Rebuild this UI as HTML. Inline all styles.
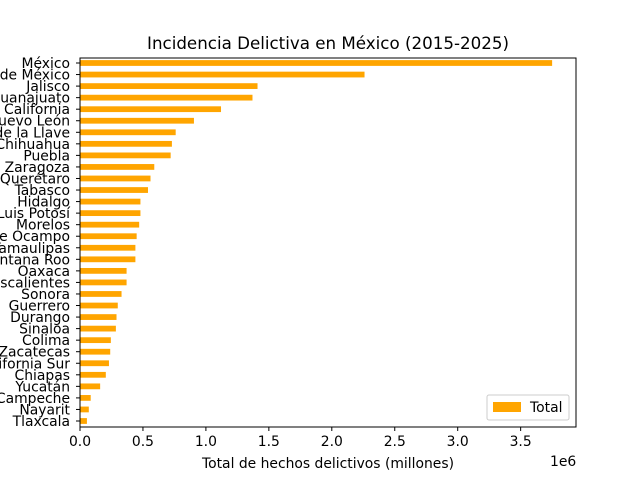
<!DOCTYPE html>
<html><head><meta charset="utf-8"><style>body{margin:0;background:#fff}svg{font-family:"DejaVu Sans","Liberation Sans",sans-serif}</style></head>
<body>
<svg width="640" height="480" viewBox="0 0 640 480">
<rect width="640" height="480" fill="#fff"/>
<text x="328" y="49" font-size="16.7" text-anchor="middle">Incidencia Delictiva en México (2015-2025)</text>
<g id="bars"></g>
<g id="ylabels" font-size="13.9" text-anchor="end"></g>
<g id="xticks" font-size="13.9" text-anchor="middle"></g>
<rect x="80" y="58" width="496" height="369" fill="none" stroke="#000" stroke-width="1"/>
<text x="328" y="468" font-size="13.9" text-anchor="middle">Total de hechos delictivos (millones)</text>
<text x="550" y="466" font-size="13.9">1e6</text>
<g>
<rect x="487" y="395" width="82" height="25" fill="#fff" stroke="#ccc" rx="2"/>
<rect x="493" y="402" width="28" height="10" fill="orange"/>
<text x="530" y="412" font-size="13.9">Total</text>
</g>
</svg>
<script>
const states=["México","Ciudad de México","Jalisco","Guanajuato","Baja California","Nuevo León","Veracruz de Ignacio de la Llave","Chihuahua","Puebla","Coahuila de Zaragoza","Querétaro","Tabasco","Hidalgo","San Luis Potosí","Morelos","Michoacán de Ocampo","Tamaulipas","Quintana Roo","Oaxaca","Aguascalientes","Sonora","Guerrero","Durango","Sinaloa","Colima","Zacatecas","Baja California Sur","Chiapas","Yucatán","Campeche","Nayarit","Tlaxcala"];
const totals=[3750000,2260000,1410000,1370000,1120000,905000,760000,730000,720000,590000,560000,540000,480000,480000,470000,450000,440000,440000,370000,370000,330000,300000,290000,285000,245000,240000,230000,205000,160000,85000,70000,55000];
const xTicks=[0,500000,1000000,1500000,2000000,2500000,3000000,3500000];
const xTickLabels=["0.0","0.5","1.0","1.5","2.0","2.5","3.0","3.5"];
const ns="http://www.w3.org/2000/svg";
const x=v=>80+v/1e6*125.9;
const step=(421-63)/(states.length-1);
const y=i=>63+i*step;
const bars=document.getElementById('bars'),yl=document.getElementById('ylabels'),xt=document.getElementById('xticks');
states.forEach((s,i)=>{
 const r=document.createElementNS(ns,'rect');
 r.setAttribute('x',80);r.setAttribute('y',y(i)-step*0.25);
 r.setAttribute('width',x(totals[i])-80);r.setAttribute('height',step*0.5);
 r.setAttribute('fill','orange');
 
 
 bars.appendChild(r);
 const t=document.createElementNS(ns,'line');
 t.setAttribute('x1',76);t.setAttribute('x2',80);t.setAttribute('y1',y(i));t.setAttribute('y2',y(i));t.setAttribute('stroke','#000');
 
 
 yl.appendChild(t);
 const l=document.createElementNS(ns,'text');
 l.setAttribute('x',70);l.setAttribute('y',y(i)+5);l.textContent=s;
 
 
 yl.appendChild(l);
});
xTicks.forEach((v,i)=>{
 const t=document.createElementNS(ns,'line');
 t.setAttribute('x1',x(v));t.setAttribute('x2',x(v));t.setAttribute('y1',427);t.setAttribute('y2',431);t.setAttribute('stroke','#000');
 
 
 xt.appendChild(t);
 const l=document.createElementNS(ns,'text');
 l.setAttribute('x',x(v));l.setAttribute('y',446);l.textContent=xTickLabels[i];
 
 
 xt.appendChild(l);
});
</script>
</body></html>
